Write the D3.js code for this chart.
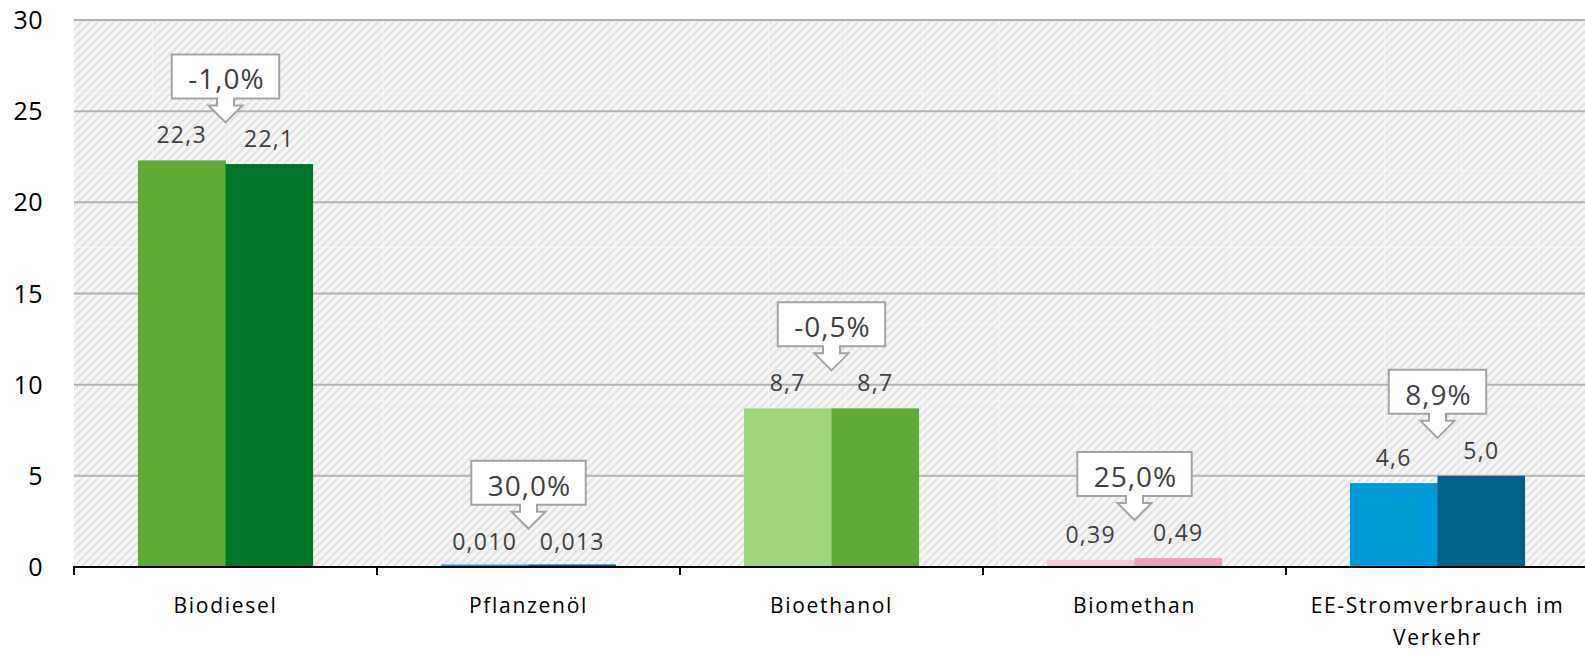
<!DOCTYPE html>
<html><head><meta charset="utf-8">
<script src="https://cdn.jsdelivr.net/npm/d3@7/dist/d3.min.js"></script>
<style>
html,body{margin:0;padding:0;background:#fff;}
svg{display:block;font-family:"Open Sans","Noto Sans",sans-serif;}
</style></head>
<body><svg id="c" width="1585" height="652"></svg>
<script>
const categories = ["Biodiesel","Pflanzenöl","Bioethanol","Biomethan","EE-Stromverbrauch im Verkehr"];
const seriesPrev = [22.3, 0.010, 8.7, 0.39, 4.6];
const seriesCurr = [22.1, 0.013, 8.7, 0.49, 5.0];
const labelsPrev = ["22,3","0,010","8,7","0,39","4,6"];
const labelsCurr = ["22,1","0,013","8,7","0,49","5,0"];
const changes = ["-1,0%","30,0%","-0,5%","25,0%","8,9%"];
const colorsPrev = ["#5eac36","#1d9dd5","#9dd67c","#f6c8d9","#009bd6"];
const colorsCurr = ["#00752a","#005f88","#5eac36","#ef9fbe","#005f88"];
const yTicks = [0,5,10,15,20,25,30];

(function(){
const svg = d3.select("#c");
const pLeft = 74, pTop = 20, pBottom = 567, band = 303;
const x0 = d3.scaleBand().domain(categories).range([pLeft, pLeft + band*categories.length]).padding(0);
const x1 = d3.scaleBand().domain(["prev","curr"]).range([0, x0.bandwidth()]).paddingInner(0).paddingOuter(0.73);
const y = d3.scaleLinear().domain([0,30]).range([pBottom, pTop]);

const defs = svg.append("defs");
const hp = defs.append("pattern").attr("id","hatch").attr("patternUnits","userSpaceOnUse")
  .attr("width",8).attr("height",8);
hp.append("rect").attr("width",8).attr("height",8).attr("fill","#f6f6f6");
hp.append("path").attr("d","M-2,2 L2,-2 M0,8 L8,0 M6,10 L10,6").attr("stroke","#e3e3e3").attr("stroke-width",2.2);
const tp = defs.append("pattern").attr("id","tile").attr("patternUnits","userSpaceOnUse")
  .attr("x",75).attr("y",16).attr("width",77).attr("height",77);
tp.append("path").attr("d","M0.5,0 V77 M0,0.5 H77").attr("stroke","#fafafa").attr("stroke-opacity",0.7).attr("stroke-width",1).attr("fill","none");

const plotRight = 1585;
svg.append("rect").attr("x",pLeft).attr("y",pTop).attr("width",plotRight-pLeft).attr("height",pBottom-pTop).attr("fill","url(#hatch)");
svg.append("rect").attr("x",pLeft).attr("y",pTop).attr("width",plotRight-pLeft).attr("height",pBottom-pTop).attr("fill","url(#tile)");

// gridlines
svg.append("g").selectAll("line").data(yTicks.filter(d=>d>0)).join("line")
  .attr("x1",pLeft).attr("x2",plotRight).attr("y1",d=>y(d)).attr("y2",d=>y(d))
  .attr("stroke","#b4b4b4").attr("stroke-width",2);

// y labels
svg.append("g").selectAll("text").data(yTicks).join("text")
  .attr("x",43).attr("y",d=>y(d)).attr("dy","0.36em").attr("text-anchor","end")
  .attr("font-size",25).attr("letter-spacing","0.5px").attr("fill","#000").text(d=>d);

// bars
const rows = categories.map((c,i)=>({c,i}));
const g = svg.append("g").selectAll("g").data(rows).join("g").attr("transform",d=>`translate(${x0(d.c)},0)`);
const barH = v => Math.max(y(0)-y(v), 2.5);
g.append("rect").attr("x",x1("prev")).attr("width",x1.bandwidth()+0.5)
  .attr("y",d=>y(0)-barH(seriesPrev[d.i])).attr("height",d=>barH(seriesPrev[d.i])).attr("fill",d=>colorsPrev[d.i]);
g.append("rect").attr("x",x1("curr")).attr("width",x1.bandwidth())
  .attr("y",d=>y(0)-barH(seriesCurr[d.i])).attr("height",d=>barH(seriesCurr[d.i])).attr("fill",d=>colorsCurr[d.i]);

// value labels
const vl = {"font-size":23,"fill":"#404040","letter-spacing":"1.3px","text-anchor":"middle"};
function applyAttrs(sel,o){for(const k in o) sel.attr(k,o[k]); return sel;}
applyAttrs(g.append("text"),vl).attr("x",x1("prev")+x1.bandwidth()/2)
  .attr("y",d=>y(seriesPrev[d.i])-17).text(d=>labelsPrev[d.i]);
applyAttrs(g.append("text"),vl).attr("x",x1("curr")+x1.bandwidth()/2)
  .attr("y",d=>y(seriesCurr[d.i])-17).text(d=>labelsCurr[d.i]);

// callouts
g.each(function(d){
  const gg = d3.select(this);
  const cx = x0.bandwidth()/2;
  const tip = y(Math.max(seriesPrev[d.i], seriesCurr[d.i])) - 38;
  const bb = tip - 24, bt = bb - 44;
  const path = gg.append("path");
  const t = gg.append("text").attr("x",cx+1).attr("y",bb-9).attr("text-anchor","middle")
    .attr("font-size",28).attr("letter-spacing","1px").attr("fill","#404040").text(changes[d.i]);
  const w = t.node().getComputedTextLength() + 31;
  const l = cx - w/2, r = cx + w/2;
  path.attr("d",`M${l},${bt} H${r} V${bb} H${cx+8.5} V${bb+7} H${cx+17} L${cx},${tip} L${cx-17},${bb+7} H${cx-8.5} V${bb} H${l} Z`)
    .attr("fill","#fff").attr("stroke","#a3a3a3").attr("stroke-width",2);
});

// x axis
svg.append("line").attr("x1",pLeft-1).attr("x2",plotRight).attr("y1",pBottom).attr("y2",pBottom)
  .attr("stroke","#000").attr("stroke-width",2);
svg.append("g").selectAll("line").data(categories).join("line")
  .attr("x1",d=>x0(d)).attr("x2",d=>x0(d)).attr("y1",pBottom).attr("y2",pBottom+8)
  .attr("stroke","#000").attr("stroke-width",2);

// category labels
const wrap = {"EE-Stromverbrauch im Verkehr":["EE-Stromverbrauch im","Verkehr"]};
svg.append("g").selectAll("text").data(categories).join("text")
  .attr("x",d=>x0(d)+x0.bandwidth()/2).attr("y",613).attr("text-anchor","middle")
  .attr("font-size",21).attr("letter-spacing","1.7px").attr("fill","#000")
  .each(function(d){
    const lines = wrap[d] || [d];
    d3.select(this).selectAll("tspan").data(lines).join("tspan")
      .attr("x",x0(d)+x0.bandwidth()/2).attr("dy",(l,i)=>i===0?0:32).text(l=>l);
  });
})();
</script></body></html>
